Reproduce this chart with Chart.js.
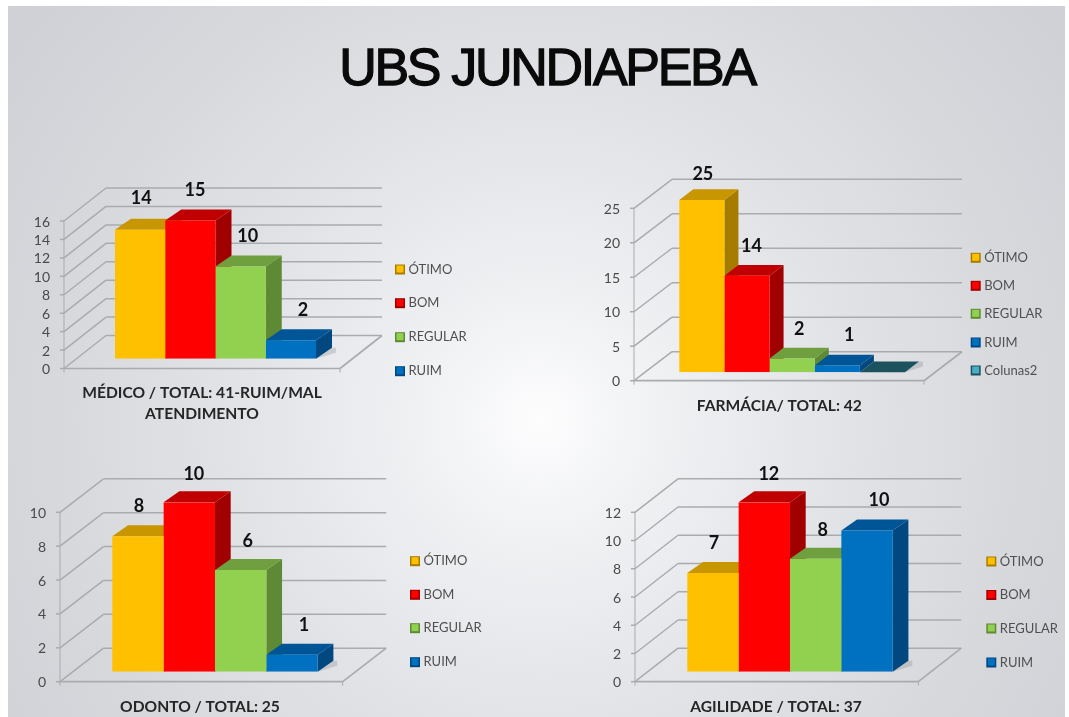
<!DOCTYPE html>
<html lang="pt-BR">
<head>
<meta charset="utf-8">
<title>UBS JUNDIAPEBA</title>
<script src="https://cdn.jsdelivr.net/npm/chart.js@4"></script>
<style>
  html, body { margin: 0; padding: 0; background: #fff; overflow: hidden; }
  #page { position: relative; width: 1069px; height: 717px; }
  #slide {
    position: absolute; left: 8px; top: 6px; width: 1057px; height: 711px;
    background: radial-gradient(circle 680px at 532px 414px, #fdfdfe 0, #f0f1f3 18%, #e2e3e7 45%, #d6d7db 75%, #cfd0d5 100%);
  }
  h1 {
    position: absolute; left: 0; top: 37px; width: 1094px; margin: 0; text-align: center;
    font: 400 52px "Liberation Sans", sans-serif; letter-spacing: -2.3px; color: #0a0a0a;
    -webkit-text-stroke: 1.3px #0a0a0a; filter: blur(0.5px);
  }
  canvas { position: absolute; filter: blur(0.6px); }
</style>
</head>
<body>
<div id="page">
  <div id="slide"></div>
  <h1>UBS JUNDIAPEBA</h1>
  <canvas id="medico" width="534" height="285" style="left:0;top:160px"></canvas>
  <canvas id="farmacia" width="535" height="285" style="left:534px;top:160px"></canvas>
  <canvas id="odonto" width="534" height="262" style="left:0;top:455px"></canvas>
  <canvas id="agilidade" width="535" height="262" style="left:534px;top:455px"></canvas>
</div>
<script>
/* UBS Jundiapeba: four survey panels with a hand-built 3D look */

const seriesNames = ['ÓTIMO', 'BOM', 'REGULAR', 'RUIM', 'Colunas2'];
const medicoValues = [14, 15, 10, 2];
const farmaciaValues = [25, 14, 2, 1, 0];
const odontoValues = [8, 10, 6, 1];
const agilidadeValues = [7, 12, 8, 10];

const FRONT_COLORS = ['#FFC000', '#FF0000', '#92D050', '#0070C0', '#4BACC6'];
const TOP_COLORS = ['#C79600', '#C00000', '#6F9F3E', '#005596', '#1C525E'];
const SIDE_COLORS = ['#A67C00', '#A00000', '#5F8A35', '#00487F', '#1C525E'];
const LABEL_NUDGE = [1, 4.5, 7, 12]; // data labels drift right along the row
const GRID = '#a9abad';
const FONT = 'Lato, "Open Sans", sans-serif';

// Geometry is in page pixels: front = floor front-left corner, top = y of the axis max
const panels = [
  { id: 'medico', values: medicoValues, max: 16, step: 2, cx: 0, cy: 160,
    front: { x: 64, y: 368.5, w: 276, top: 221 }, back: { dx: 42, dy: 33 },
    bars: { left: 115, right: 316, base: 358.7, dx: 16, dy: 11 },
    labelLift: [31, 30.5, 30, 30],
    legend: { x: 400, ys: [269, 302.7, 336.7, 370.7] },
    title: { x: 202, ys: [392.7, 414.3], lines: ['MÉDICO / TOTAL: 41-RUIM/MAL', 'ATENDIMENTO'] } },
  { id: 'farmacia', values: farmaciaValues, max: 25, step: 5, cx: 534, cy: 160,
    front: { x: 634, y: 380.7, w: 290, top: 208.3 }, back: { dx: 38, dy: 29 },
    bars: { left: 679.3, right: 905, base: 372.3, dx: 14, dy: 10.7 },
    labelLift: [26, 30, 29.5, 30],
    legend: { x: 975.7, ys: [257.3, 285.3, 313.3, 342, 370] },
    title: { x: 779.3, ys: [405.7], lines: ['FARMÁCIA/ TOTAL: 42'] } },
  { id: 'odonto', values: odontoValues, max: 10, step: 2, cx: 0, cy: 455,
    front: { x: 60, y: 681.7, w: 282.7, top: 512.3 }, back: { dx: 43.5, dy: 33.5 },
    bars: { left: 112.3, right: 317.7, base: 671.7, dx: 15.7, dy: 11 },
    labelLift: [30, 28, 28.5, 30],
    legend: { x: 415, ys: [560.7, 594.3, 627.7, 661.7] },
    title: { x: 200, ys: [707.3], lines: ['ODONTO / TOTAL: 25'] } },
  { id: 'agilidade', values: agilidadeValues, max: 12, step: 2, cx: 534, cy: 455,
    front: { x: 635, y: 681.7, w: 283.3, top: 512.3 }, back: { dx: 43, dy: 33.5 },
    bars: { left: 687.3, right: 892.7, base: 671.7, dx: 15.7, dy: 11 },
    labelLift: [30, 28.5, 29, 30],
    legend: { x: 991.3, ys: [561, 594.5, 628, 662] },
    title: { x: 776, ys: [707], lines: ['AGILIDADE / TOTAL: 37'] } }
];

function line(ctx, x1, y1, x2, y2) {
  ctx.beginPath();
  ctx.moveTo(x1, y1);
  ctx.lineTo(x2, y2);
  ctx.stroke();
}

function poly(ctx, pts, color) {
  ctx.fillStyle = color;
  ctx.beginPath();
  pts.forEach((p, i) => i ? ctx.lineTo(p[0], p[1]) : ctx.moveTo(p[0], p[1]));
  ctx.closePath();
  ctx.fill();
}

// ── Walls, floor and 3D faces ─────────────────────────────────

const walls3d = {
  id: 'walls3d',

  beforeDatasetsDraw(chart, args, opts) {
    const p = opts.panel, ctx = chart.ctx, sy = chart.scales.y;
    const x0 = p.front.x - p.cx, x1 = x0 + p.front.w;
    const shift = p.front.y - p.bars.base;
    ctx.save();
    ctx.strokeStyle = GRID;
    ctx.lineWidth = 1.5;
    sy.ticks.forEach(t => {
      const y = sy.getPixelForValue(t.value) + shift;
      line(ctx, x0, y, x0 + p.back.dx, y - p.back.dy);
      line(ctx, x0 + p.back.dx, y - p.back.dy, x1 + p.back.dx, y - p.back.dy);
      line(ctx, x0 - 4, y, x0, y);
    });
    const yFloor = sy.getPixelForValue(0) + shift;
    ctx.lineWidth = 1;
    line(ctx, x0, yFloor + 4, x0, sy.getPixelForValue(p.max) + shift);
    line(ctx, x1, yFloor, x1, yFloor + 4);
    ctx.lineWidth = 1.7;
    line(ctx, x0, yFloor, x1, yFloor);
    line(ctx, x1, yFloor, x1 + p.back.dx, yFloor - p.back.dy);

    // side and top faces left to right, Chart.js then paints the fronts over them
    const dx = p.bars.dx, dy = p.bars.dy;
    chart.data.datasets.forEach((ds, i) => {
      const bar = chart.getDatasetMeta(i).data[0];
      const l = bar.x - bar.width / 2, r = bar.x + bar.width / 2;
      poly(ctx, [[r, bar.base], [r + dx + 4, bar.base - dy + 5], [r + dx + 4, bar.base - dy], [r + dx, bar.base - dy]], 'rgba(90,90,95,0.2)');
      poly(ctx, [[r, bar.y], [r + dx, bar.y - dy], [r + dx, bar.base - dy], [r, bar.base]], SIDE_COLORS[i]);
      poly(ctx, [[l, bar.y], [l + dx, bar.y - dy], [r + dx, bar.y - dy], [r, bar.y]], TOP_COLORS[i]);
    });
    ctx.restore();
  },

  afterDatasetsDraw(chart, args, opts) {
    const p = opts.panel, ctx = chart.ctx;
    ctx.save();
    ctx.textBaseline = 'middle';

    // value labels
    ctx.textAlign = 'center';
    ctx.fillStyle = '#111';
    ctx.font = 'bold 18px ' + FONT;
    chart.data.datasets.forEach((ds, i) => {
      if (!ds.data[0]) return;
      const bar = chart.getDatasetMeta(i).data[0];
      ctx.fillText(ds.data[0], bar.x + LABEL_NUDGE[i], bar.y - p.labelLift[i]);
    });

    // legend
    ctx.textAlign = 'left';
    ctx.font = '13px ' + FONT;
    chart.data.datasets.forEach((ds, i) => {
      const mx = p.legend.x - p.cx, my = p.legend.ys[i] - p.cy;
      ctx.fillStyle = SIDE_COLORS[i];
      ctx.fillRect(mx - 5, my - 4.5, 10, 10);
      ctx.fillStyle = FRONT_COLORS[i];
      ctx.fillRect(mx - 3.5, my - 3.5, 7, 7);
      ctx.fillStyle = '#505050';
      ctx.fillText(ds.label, mx + 8.5, my + 0.5);
    });

    // panel caption
    ctx.textAlign = 'center';
    ctx.fillStyle = '#262626';
    ctx.font = 'bold 15.6px ' + FONT;
    p.title.lines.forEach((t, i) => ctx.fillText(t, p.title.x - p.cx, p.title.ys[i] - p.cy));
    ctx.restore();
  }
};

// ── Charts ────────────────────────────────────────────────────

panels.forEach(p => {
  const canvas = document.getElementById(p.id);
  const groupW = p.bars.right - p.bars.left;
  const center = (p.bars.left + p.bars.right) / 2;
  const areaL = center - p.front.w / 2;
  const plotH = p.front.y - p.front.top;

  new Chart(canvas, {
    type: 'bar',
    data: {
      labels: ['Avaliação'],
      datasets: p.values.map((v, i) => ({
        label: seriesNames[i],
        data: [v],
        backgroundColor: FRONT_COLORS[i],
        borderWidth: 0,
        barPercentage: 1,
        categoryPercentage: groupW / p.front.w
      }))
    },
    options: {
      responsive: false,
      animation: false,
      layout: {
        padding: {
          left: 0,
          right: canvas.width - (areaL + p.front.w - p.cx),
          top: p.bars.base - plotH - p.cy,
          bottom: canvas.height - (p.bars.base - p.cy)
        }
      },
      plugins: { legend: { display: false }, tooltip: { enabled: false }, walls3d: { panel: p } },
      scales: {
        x: { display: false },
        y: {
          min: 0,
          max: p.max,
          // scale box runs up to the canvas edge: labels are clipped to it
          afterFit: scale => { scale.width = areaL - p.cx; },
          grid: { display: false, drawTicks: false },
          border: { display: false },
          ticks: {
            stepSize: p.step,
            autoSkip: false,
            padding: areaL - p.front.x + 14,
            labelOffset: p.front.y - p.bars.base + 1,
            color: '#4a4a4a',
            font: { family: FONT, size: 14 }
          }
        }
      }
    },
    plugins: [walls3d]
  });
});
</script>
</body>
</html>
